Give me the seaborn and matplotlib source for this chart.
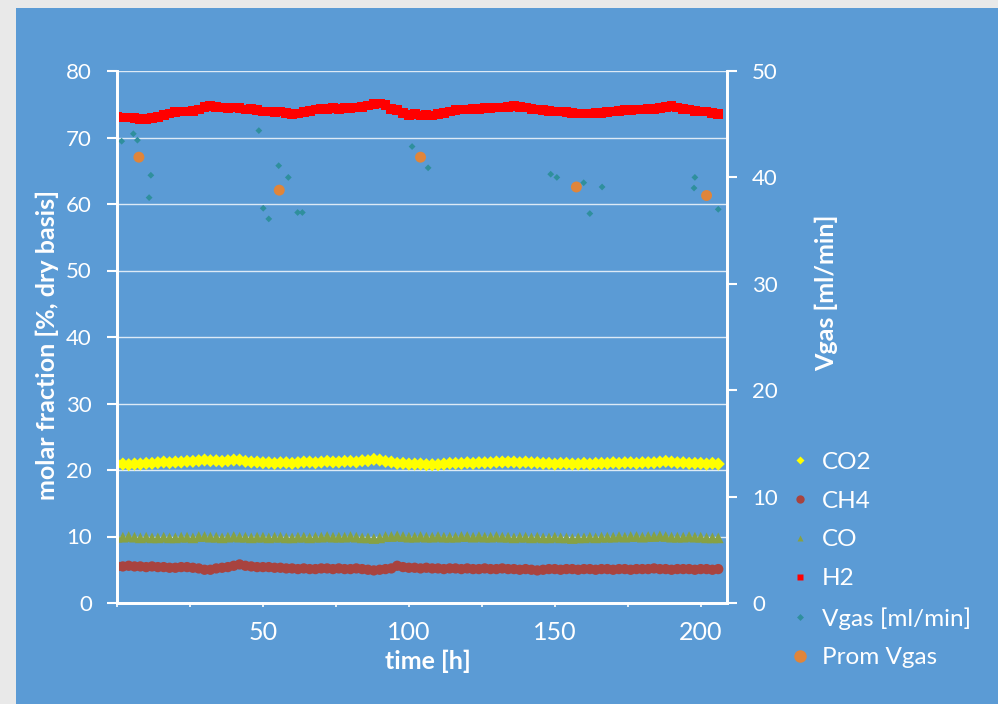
import numpy as np
import pandas as pd
import seaborn as sns
import matplotlib.pyplot as plt
from matplotlib.lines import Line2D
from matplotlib.patches import Rectangle

# sampling times [h], one reading every 2 h
time_h = np.arange(0, 207, 2)

h2 = [73.1, 73.0, 73.0, 72.9, 72.8, 72.8, 72.9, 73.1, 73.4, 73.6, 73.8, 73.9, 73.9,
      74.0, 74.2, 74.6, 74.7, 74.6, 74.5, 74.4, 74.5, 74.4, 74.2, 74.3, 74.1, 73.9,
      73.9, 73.8, 73.9, 73.7, 73.5, 73.6, 73.8, 74.0, 74.2, 74.3, 74.3, 74.4, 74.3,
      74.4, 74.4, 74.5, 74.6, 74.8, 75.0, 75.1, 74.9, 74.3, 74.1, 73.7, 73.4, 73.5,
      73.3, 73.4, 73.3, 73.5, 73.7, 73.9, 74.1, 74.2, 74.2, 74.3, 74.3, 74.4, 74.4,
      74.5, 74.5, 74.6, 74.7, 74.6, 74.5, 74.3, 74.2, 74.1, 74.0, 73.9, 73.9, 73.8,
      73.7, 73.6, 73.6, 73.6, 73.7, 73.7, 73.8, 73.9, 74.0, 74.1, 74.1, 74.2, 74.2,
      74.3, 74.3, 74.4, 74.6, 74.7, 74.5, 74.3, 74.2, 74.0, 73.9, 73.9, 73.7, 73.5]

co2 = [20.9, 20.9, 20.8, 20.9, 20.9, 21.0, 21.0, 21.1, 21.2, 21.1, 21.2, 21.2, 21.3,
       21.3, 21.4, 21.5, 21.4, 21.4, 21.3, 21.4, 21.5, 21.5, 21.3, 21.2, 21.2, 21.1,
       21.1, 21.0, 21.1, 21.1, 21.0, 21.1, 21.2, 21.2, 21.1, 21.2, 21.3, 21.2, 21.2,
       21.3, 21.3, 21.2, 21.4, 21.4, 21.6, 21.5, 21.3, 21.2, 21.0, 21.0, 20.9, 20.9,
       20.9, 20.8, 20.8, 20.8, 20.9, 21.0, 21.0, 21.0, 21.1, 21.0, 21.1, 21.1, 21.1,
       21.2, 21.2, 21.2, 21.2, 21.1, 21.2, 21.1, 21.1, 21.0, 21.0, 20.9, 21.0, 21.0,
       20.9, 20.9, 21.0, 20.9, 21.0, 21.0, 21.0, 21.1, 21.0, 21.1, 21.1, 21.0, 21.1,
       21.1, 21.1, 21.2, 21.3, 21.2, 21.1, 21.1, 21.0, 21.0, 21.0, 20.9, 21.0, 20.9]

co = [9.9, 9.9, 10.0, 9.9, 9.8, 9.9, 9.8, 9.8, 9.9, 9.8, 9.8, 9.9, 9.9,
      9.8, 10.0, 10.0, 9.9, 9.9, 9.8, 9.9, 10.0, 9.9, 9.9, 9.8, 9.9, 9.9,
      9.8, 9.9, 9.9, 9.8, 9.8, 9.9, 9.9, 9.8, 9.9, 9.9, 10.0, 9.9, 9.9,
      9.9, 10.0, 9.9, 9.8, 9.8, 9.7, 9.8, 10.0, 10.0, 10.1, 10.0, 9.9, 9.9,
      10.0, 9.9, 9.9, 10.0, 9.9, 9.9, 9.9, 10.0, 10.0, 9.9, 10.0, 9.9, 9.9,
      10.0, 9.9, 9.9, 9.8, 9.9, 9.9, 9.8, 9.9, 9.8, 9.8, 9.9, 9.8, 9.8,
      9.7, 9.8, 9.8, 9.9, 9.8, 9.9, 9.9, 9.9, 10.0, 9.9, 10.0, 10.0, 9.9,
      10.0, 10.0, 10.1, 10.0, 9.9, 9.9, 9.9, 10.0, 9.9, 9.9, 9.8, 9.8, 9.8]

ch4 = [5.5, 5.5, 5.6, 5.5, 5.5, 5.4, 5.5, 5.4, 5.4, 5.3, 5.3, 5.4, 5.4,
       5.3, 5.2, 5.0, 5.0, 5.2, 5.3, 5.4, 5.6, 5.8, 5.6, 5.5, 5.4, 5.4,
       5.4, 5.3, 5.3, 5.2, 5.2, 5.1, 5.2, 5.1, 5.1, 5.2, 5.2, 5.1, 5.2,
       5.1, 5.1, 5.2, 5.1, 5.0, 4.9, 5.0, 5.1, 5.2, 5.6, 5.4, 5.3, 5.3,
       5.2, 5.3, 5.2, 5.2, 5.1, 5.2, 5.2, 5.1, 5.2, 5.1, 5.1, 5.2, 5.1,
       5.1, 5.2, 5.1, 5.1, 5.0, 5.1, 5.0, 4.9, 5.0, 5.1, 5.1, 5.0, 5.1,
       5.1, 5.0, 5.1, 5.1, 5.0, 5.1, 5.1, 5.0, 5.1, 5.1, 5.0, 5.1, 5.1,
       5.1, 5.2, 5.1, 5.1, 5.0, 5.1, 5.1, 5.1, 5.0, 5.1, 5.1, 5.0, 5.1]

# gas flow, right axis
vgas_t = [1.6, 5.6, 7.0, 11.0, 11.6, 48.6, 50.1, 52.0, 55.4, 58.7, 61.9, 63.5,
          101.1, 106.6, 148.6, 150.7, 159.9, 162.0, 166.2, 197.7, 198.0, 206.0]
vgas = [43.4, 44.1, 43.5, 38.1, 40.2, 44.4, 37.1, 36.1, 41.1, 40.0, 36.7, 36.7,
        42.9, 40.9, 40.3, 40.0, 39.5, 36.6, 39.1, 39.0, 40.0, 37.0]
prom_t = [7.5, 55.6, 104.0, 157.4, 202.0]
prom_vgas = [41.9, 38.8, 41.9, 39.1, 38.3]

xtick_pos = [0, 25, 50, 75, 100, 125, 150, 175, 200]
xtick_labels = ["", "", "50", "", "100", "", "150", "", "200"]

BLUE = "#5B9BD5"
WHITE = "white"

plt.rcParams["font.family"] = ["Lato", "DejaVu Sans"]

fig = plt.figure(figsize=(9.98, 7.04), dpi=100, facecolor="#E9E9E9")
fig.patches.append(Rectangle((16 / 998, 0), 1, 1 - 8 / 704, transform=fig.transFigure,
                             facecolor=BLUE, edgecolor="none", zorder=-10))

ax = fig.add_axes([117 / 998, 1 - 603 / 704, 610 / 998, 532 / 704])
ax.set_facecolor(BLUE)
ax2 = ax.twinx()

df = pd.DataFrame({"t": time_h, "H2": h2, "CO2": co2, "CO": co, "CH4": ch4})

sns.scatterplot(data=df, x="t", y="CO", ax=ax, marker="^", s=60, color="#86A145",
                edgecolor="none", linewidth=0)
sns.scatterplot(data=df, x="t", y="CH4", ax=ax, marker="o", s=55, color="#A8433F",
                edgecolor="none", linewidth=0)
sns.scatterplot(data=df, x="t", y="CO2", ax=ax, marker="D", s=45, color="#FFFF00",
                edgecolor="none", linewidth=0)
sns.scatterplot(data=df, x="t", y="H2", ax=ax, marker="s", s=50, color="#FF0000",
                edgecolor="none", linewidth=0)

sns.scatterplot(x=vgas_t, y=vgas, ax=ax2, marker="D", s=12, color="#2F8F9D",
                edgecolor="none", linewidth=0)
sns.scatterplot(x=prom_t, y=prom_vgas, ax=ax2, marker="o", s=62, color="#E0853A",
                edgecolor="none", linewidth=0)

ax.set_xlim(0, 209)
ax.set_ylim(0, 80)
ax2.set_ylim(0, 50)
ax.set_yticks(range(0, 81, 10))
ax2.set_yticks(range(0, 51, 10))
ax.set_xticks(xtick_pos)
ax.set_xticklabels(xtick_labels)

ax.grid(axis="y", color=WHITE, linewidth=1, alpha=0.8)
ax.set_axisbelow(True)

for a in (ax, ax2):
    for side in ("left", "right", "bottom"):
        a.spines[side].set_color(WHITE)
        a.spines[side].set_linewidth(2)
    a.spines["top"].set_visible(False)

ax.tick_params(axis="y", direction="out", length=7, width=1.5, color=WHITE,
               labelcolor=WHITE, labelsize=16, pad=11)
ax2.tick_params(axis="y", direction="out", length=7, width=1.5, color=WHITE,
                labelcolor=WHITE, labelsize=16, pad=11)
ax.tick_params(axis="x", direction="out", length=3, width=1.2, color=WHITE,
               labelcolor=WHITE, labelsize=18, pad=10)

ax.set_xlabel("time [h]", color=WHITE, fontsize=18, fontweight="bold")
ax.set_ylabel("molar fraction [%, dry basis]", color=WHITE, fontsize=18, fontweight="bold")
ax2.set_ylabel("Vgas [ml/min]", color=WHITE, fontsize=18, fontweight="bold")
ax.xaxis.set_label_coords(0.51, -0.088)
ax.yaxis.set_label_coords(-0.095, 0.485)
ax2.yaxis.set_label_coords(1.144, 0.583)

handles = [
    Line2D([], [], marker="D", ms=4.5, color="#FFFF00", ls="none", mec="none"),
    Line2D([], [], marker="o", ms=6, color="#A8433F", ls="none", mec="none"),
    Line2D([], [], marker="^", ms=5, color="#86A145", ls="none", mec="none"),
    Line2D([], [], marker="s", ms=5, color="#FF0000", ls="none", mec="none"),
    Line2D([], [], marker="D", ms=3.5, color="#2F8F9D", ls="none", mec="none"),
    Line2D([], [], marker="o", ms=9, color="#E0853A", ls="none", mec="none"),
]
labels = ["CO2", "CH4", "CO", "H2", "Vgas [ml/min]", "Prom Vgas"]
fig.legend(handles, labels, loc="upper left", bbox_to_anchor=(0.7896, 0.358),
           frameon=False, fontsize=17.5, labelcolor=WHITE, handlelength=1,
           handletextpad=0.4, labelspacing=0.73, borderpad=0, borderaxespad=0)

fig.savefig("out.png", dpi=100, facecolor=fig.get_facecolor())
